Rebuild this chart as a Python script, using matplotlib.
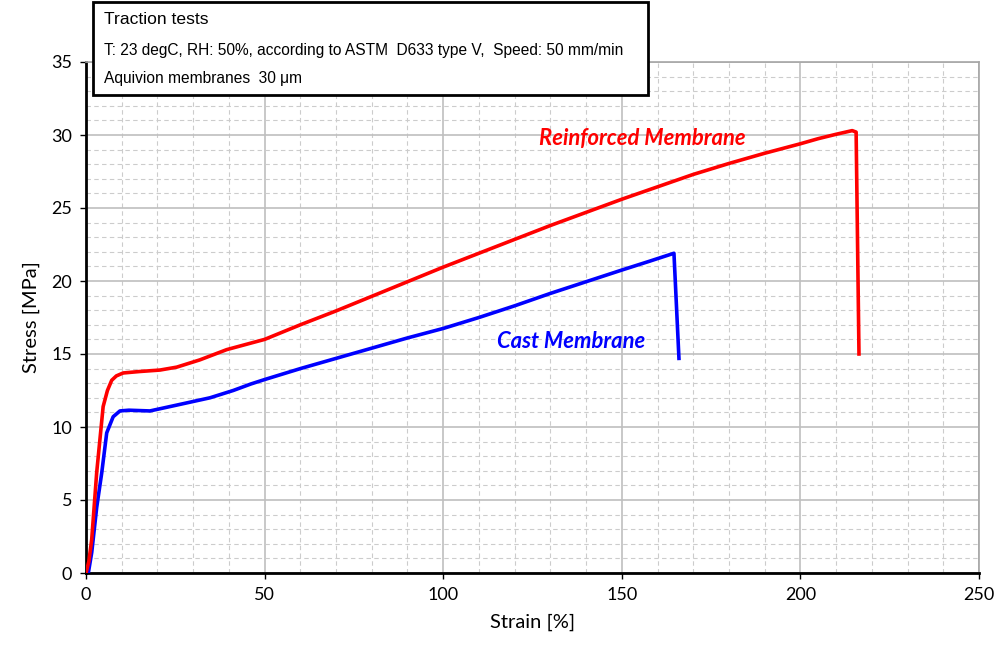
import matplotlib
matplotlib.use("Agg")
import matplotlib.pyplot as plt
from matplotlib.patches import Rectangle
from matplotlib.ticker import MultipleLocator

# Data
reinf_strain = [0, 0.8, 1.6, 3.0, 4.8, 6.0, 7.2, 8.5, 10.4, 15, 20.7, 25.4, 31.9, 39.4, 46.2, 50,
                60, 70, 80, 90, 100, 110, 120, 130, 140, 150, 160, 170, 180, 190, 200,
                205, 210, 214.5, 215.6, 216.4]
reinf_stress = [0, 0.8, 2.3, 6.9, 11.4, 12.5, 13.2, 13.5, 13.7, 13.8, 13.9, 14.1, 14.6, 15.3, 15.75, 16.0,
                17.0, 17.95, 18.95, 19.95, 20.95, 21.9, 22.85, 23.8, 24.7, 25.6, 26.45, 27.3, 28.05, 28.75, 29.4,
                29.75, 30.05, 30.3, 30.2, 15.0]
cast_strain = [0, 0.65, 1.6, 3.0, 4.4, 5.8, 7.6, 9.5, 12, 17.9, 25.4, 34.7, 41.2, 46.2, 50,
               60, 70, 80, 90, 100, 110, 120, 130, 140, 150, 157.7, 164.6, 166.0]
cast_stress = [0, 0, 1.4, 4.5, 6.85, 9.6, 10.7, 11.1, 11.15, 11.1, 11.5, 12.0, 12.5, 12.95, 13.25,
               14.0, 14.7, 15.4, 16.1, 16.75, 17.5, 18.3, 19.15, 19.95, 20.75, 21.35, 21.9, 14.7]

x_ticks = [0, 50, 100, 150, 200, 250]
y_ticks = [0, 5, 10, 15, 20, 25, 30, 35]

W, H = 1002, 647
fig = plt.figure(figsize=(W / 100, H / 100), dpi=100)
ax = fig.add_axes([86 / W, 1 - 573 / H, (979 - 86) / W, (573 - 62) / H])

ax.plot(cast_strain, cast_stress, color="#0000ff", lw=2.6, zorder=3)
ax.plot(reinf_strain, reinf_stress, color="#ff0000", lw=2.6, zorder=3)

ax.set_xlim(0, 250)
ax.set_ylim(0, 35)
ax.set_xticks(x_ticks)
ax.set_yticks(y_ticks)
ax.xaxis.set_minor_locator(MultipleLocator(10))
ax.yaxis.set_minor_locator(MultipleLocator(1))
ax.grid(which="major", color="#bfbfbf", lw=1.2, ls="-")
ax.grid(which="minor", color="#cccccc", lw=0.8, ls=(0, (4, 3)))
ax.set_axisbelow(True)
ax.tick_params(which="minor", length=0)
ax.tick_params(which="major", length=4, width=1, direction="out", colors="#000000",
               labelsize=13, pad=6)
tickfont = "Lato"
for lab in ax.get_xticklabels() + ax.get_yticklabels():
    lab.set_fontfamily(tickfont)

for s in ["left", "bottom"]:
    ax.spines[s].set_linewidth(2)
    ax.spines[s].set_color("black")
for s in ["top", "right"]:
    ax.spines[s].set_linewidth(1.2)
    ax.spines[s].set_color("#a6a6a6")

ax.set_xlabel("Strain [%]", fontsize=14.5, family=tickfont, labelpad=8)
ax.set_ylabel("Stress [MPa]", fontsize=14.5, family=tickfont, labelpad=8)

def fig_text_px(x, y, s, **kw):
    return fig.text(x / W, 1 - y / H, s, **kw)

fig_text_px(642, 139, "Reinforced Membrane", color="#ff0000", fontsize=15.8,
            fontweight="bold", fontstyle="italic", family=tickfont, ha="center", va="center")
fig_text_px(571, 341, "Cast Membrane", color="#0000ff", fontsize=15.8,
            fontweight="bold", fontstyle="italic", family=tickfont, ha="center", va="center")

# Info box
box = Rectangle((93 / W, 1 - 95 / H), (648 - 93) / W, (95 - 2) / H, transform=fig.transFigure,
                facecolor="white", edgecolor="black", lw=2, zorder=10)
fig.patches.append(box)
fig_text_px(104, 19, "Traction tests", fontsize=12.6, family="Liberation Sans",
            va="center", ha="left", zorder=11)
fig_text_px(104, 50, "T: 23 degC, RH: 50%, according to ASTM  D633 type V,  Speed: 50 mm/min",
            fontsize=11.2, family="Liberation Sans", va="center", ha="left", zorder=11)
fig_text_px(104, 78, "Aquivion membranes  30 \u03bcm", fontsize=11.2, family="Liberation Sans",
            va="center", ha="left", zorder=11)

fig.savefig("out.png", dpi=100)
